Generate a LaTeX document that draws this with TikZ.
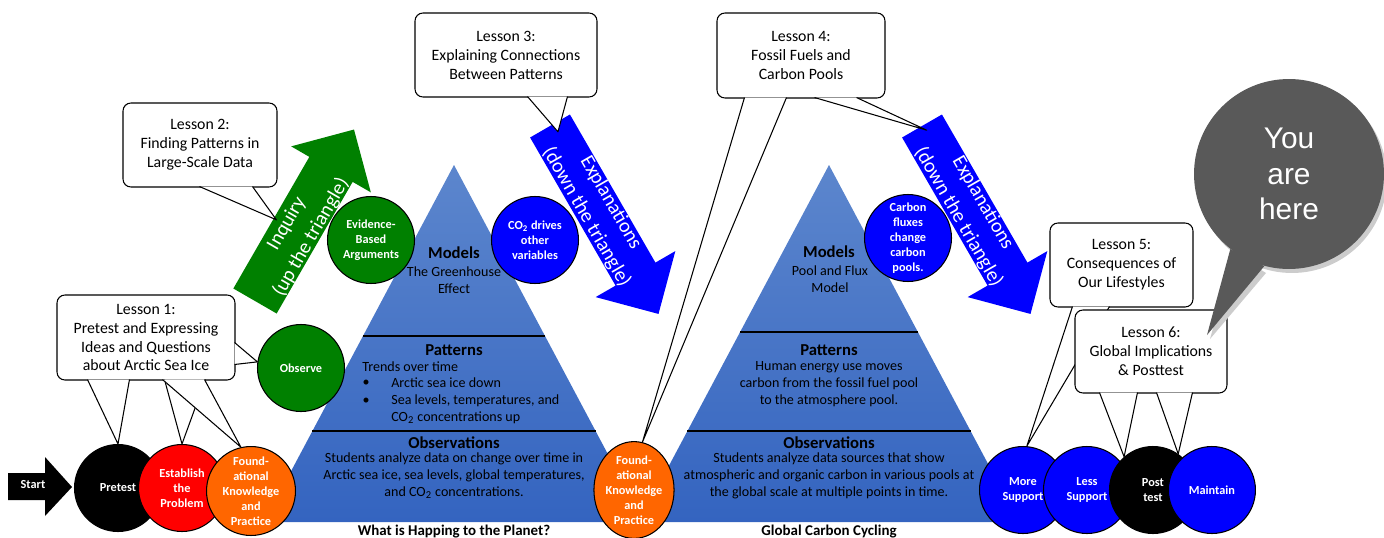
\documentclass[tikz,border=0pt]{standalone}
\usepackage{fontspec}
\setmainfont{Carlito}
\newfontfamily\bubblefont{Liberation Sans}
\usetikzlibrary{calc,shapes.geometric}

\definecolor{stepgreen}{RGB}{0,128,0}
\definecolor{stepblue}{RGB}{0,0,255}
\definecolor{stepred}{RGB}{255,0,0}
\definecolor{steporange}{RGB}{255,102,0}
\definecolor{tritop}{RGB}{92,134,205}
\definecolor{tribottom}{RGB}{52,100,192}
\definecolor{bubblegray}{RGB}{89,89,89}

\begin{document}
\begin{tikzpicture}[x=0.02cm, y=-0.02cm,
  stage/.style={circle, draw=black, line width=0.6pt, minimum size=1.74cm, inner sep=0pt, text=white, align=center, font=\fontsize{7}{8.5}\selectfont\bfseries},
  lesson/.style={draw=black, fill=white, line width=0.6pt, rounded corners=4.5pt, align=center, inner sep=0pt, font=\fontsize{9}{10.8}\selectfont},
  callout/.style={draw=black, fill=white, line width=0.6pt, line join=round},
  tritext/.style={align=center, inner sep=0pt, font=\fontsize{8}{9.7}\selectfont},
  trihead/.style={inner sep=0pt, font=\fontsize{9.5}{11}\selectfont\bfseries},
  arrowtext/.style={text=white, align=center, inner sep=0pt, font=\fontsize{11.5}{16}\selectfont},
  divider/.style={line width=0.7pt}]

  \useasboundingbox (0,0) rectangle (1384,538);

  % Triangles
  \shade[top color=tritop, bottom color=tribottom] (454,165) -- (264,522) -- (644,522) -- cycle;
  \shade[top color=tritop, bottom color=tribottom] (829,165) -- (639,522) -- (1019,522) -- cycle;
  \draw[divider] (363,336) -- (545,336);
  \draw[divider] (312,431) -- (596,431);
  \draw[divider] (740,332) -- (918,332);
  \draw[divider] (687,431) -- (971,431);

  % Left triangle text
  \node[trihead] (mod1) at (454,253) {Models};
  \node[tritext] (mod1t) at (454,280) {The Greenhouse\\Effect};
  \node[trihead] (pat1) at (454,350) {Patterns};
  \node[tritext, anchor=west] (pat1a) at (362,367) {Trends over time};
  \node[tritext] (dot1) at (366,383) {\textbullet};
  \node[tritext] (dot2) at (366,401) {\textbullet};
  \node[tritext, anchor=west] (pat1b) at (391,383) {Arctic sea ice down};
  \node[tritext, anchor=west, align=left] (pat1c) at (391,409.5) {Sea levels, temperatures, and\\CO\textsubscript{2} concentrations up};
  \node[trihead] (obs1) at (454,443) {Observations};
  \node[tritext] (obs1t) at (454,476) {Students analyze data on change over time in\\Arctic sea ice, sea levels, global temperatures,\\and CO\textsubscript{2} concentrations.};
  \node[font=\fontsize{8.5}{10}\selectfont\bfseries] (title1) at (454,532) {What is Happing to the Planet?};

  % Right triangle text
  \node[trihead] (mod2) at (829,252) {Models};
  \node[tritext] (mod2t) at (830,279) {Pool and Flux\\Model};
  \node[trihead] (pat2) at (829,350) {Patterns};
  \node[tritext] (pat2t) at (829,384) {Human energy use moves\\carbon from the fossil fuel pool\\to the atmosphere pool.};
  \node[trihead] (obs2) at (829,443) {Observations};
  \node[tritext] (obs2t) at (829,476) {Students analyze data sources that show\\atmospheric and organic carbon in various pools at\\the global scale at multiple points in time.};
  \node[font=\fontsize{8.5}{10}\selectfont\bfseries] (title2) at (829,532) {Global Carbon Cycling};

  % Inquiry arrow
  \begin{scope}[shift={(255,301)}, rotate=60]
    \fill[stepgreen] (0,-25) -- (152,-25) -- (152,-46) -- (198,0) -- (152,46) -- (152,25) -- (0,25) -- cycle;
    \node[arrowtext, rotate=60] (inq) at (83,3) {Inquiry\\(up the triangle)};
    \coordinate (inqedge) at (81,-22);
  \end{scope}

  % Explanation arrows
  \begin{scope}[shift={(550,126)}, rotate=-60]
    \fill[stepblue] (0,-23) -- (171,-23) -- (171,-46) -- (217,0) -- (171,46) -- (171,23) -- (0,23) -- cycle;
    \node[arrowtext, rotate=-60] (expl1) at (97,0) {Explanations\\(down the triangle)};
    \coordinate (expl1top) at (9,-4);
  \end{scope}
  \begin{scope}[shift={(922,126)}, rotate=-60]
    \fill[stepblue] (0,-23) -- (171,-23) -- (171,-46) -- (217,0) -- (171,46) -- (171,23) -- (0,23) -- cycle;
    \node[arrowtext, rotate=-60] (expl2) at (97,0) {Explanations\\(down the triangle)};
    \coordinate (expl2top) at (6,-2);
  \end{scope}

  % Start
  \fill[black] (8,473) -- (45,473) -- (45,457) -- (72,487) -- (45,516) -- (45,500) -- (8,500) -- cycle;
  \node[text=white, font=\fontsize{7}{8}\selectfont\bfseries] (start) at (33,485) {Start};

  % Circles on the triangles
  \node[stage, fill=stepgreen] (obs) at (301,368) {Observe};
  \node[stage, fill=stepgreen] (evid) at (371,240) {Evidence-\\Based\\Arguments};
  \node[stage, fill=stepblue] (cotwo) at (535,240) {CO\textsubscript{2} drives\\other\\variables};
  \node[stage, fill=stepblue] (flux) at (908,238) {Carbon\\fluxes\\change\\carbon\\pools.};

  % Bottom row, left
  \node[stage, fill=black] (pre) at (118,488) {Pretest};
  \node[stage, fill=stepred] (est) at (182,488) {Establish\\the\\Problem};
  \node[stage, fill=steporange] (fnd1) at (251,491) {Found-\\ational\\Knowledge\\and\\Practice};

  % Bottom row, middle
  \node[stage, ellipse, minimum width=1.48cm, minimum height=1.76cm, fill=steporange] (fnd2) at (634,490) {Found-\\ational\\Knowledge\\and\\Practice};

  % Bottom row, right
  \node[stage, fill=stepblue] (mores) at (1023,490) {More\\Support};
  \node[stage, fill=stepblue, right of=mores, node distance=1.28cm] (lesss) {Less\\Support};
  \node[stage, fill=black, right of=lesss, node distance=1.32cm] (post) {Post\\test};
  \node[stage, fill=stepblue, right of=post, node distance=1.18cm] (maint) {Maintain};

  % Lesson 1
  \node[lesson, minimum width=3.56cm, minimum height=1.7cm] (les1) at (146,337.5) {Lesson 1:\\Pretest and Expressing\\Ideas and Questions\\about Arctic Sea Ice};
  \path[callout] ($(les1.south west)+(31,-1)$) -- (pre.north) -- ($(les1.south west)+(73,-1)$);
  \path[callout] ($(les1.south west)+(108,-1)$) -- (est.north) -- ($(les1.south west)+(149,-1)$);
  \path[callout] ($(les1.south west)+(106,-1)$) -- (fnd1.103) -- ($(les1.south west)+(148,-1)$);
  \path[callout] ($(les1.north east)+(-1,48)$) -- (obs.172) -- ($(les1.north east)+(-1,70)$);

  % Lesson 2
  \node[lesson, minimum width=3.08cm, minimum height=1.68cm] (les2) at (200,145) {Lesson 2:\\Finding Patterns in\\Large-Scale Data};
  \path[callout] ($(les2.south west)+(77,-1)$) -- (inqedge) -- ($(les2.south west)+(130,-1)$);

  % Lesson 3
  \node[lesson, minimum width=3.64cm, minimum height=1.68cm] (les3) at (506,55) {Lesson 3:\\Explaining Connections\\Between Patterns};
  \path[callout] ($(les3.south west)+(113,-1)$) -- (expl1top) -- ($(les3.south west)+(153,-1)$);

  % Lesson 4
  \node[lesson, minimum width=3.36cm, minimum height=1.7cm] (les4) at (801,55.5) {Lesson 4:\\Fossil Fuels and\\Carbon Pools};
  \path[callout] ($(les4.south west)+(98,-1)$) -- (expl2top) -- ($(les4.south west)+(140,-1)$);
  \path[callout] ($(les4.south west)+(28,-1)$) -- (fnd2.80) -- ($(les4.south west)+(70,-1)$);

  % Lesson 5
  \node[lesson, minimum width=2.86cm, minimum height=1.68cm] (les5) at (1121.5,265) {Lesson 5:\\Consequences of\\Our Lifestyles};
  \path[callout] ($(les5.south west)+(23,-1)$) -- (mores.85) -- ($(les5.south west)+(60,-1)$);

  % Lesson 6
  \node[lesson, minimum width=3.04cm, minimum height=1.66cm] (les6) at (1151,351.5) {Lesson 6:\\Global Implications\\\& Posttest};
  \path[callout] ($(les6.south west)+(25,-1)$) -- (post.131) -- ($(les6.south west)+(63,-1)$);
  \path[callout] ($(les6.south west)+(82,-1)$) -- (post.55) -- ($(les6.south west)+(118,-1)$);

  % You are here
  \fill[black!20] (1292,178) circle (1.9cm);
  \fill[black!20] (1210,339) -- (1234,253) -- (1266,273) -- cycle;
  \node[circle, fill=bubblegray, minimum size=3.8cm, inner sep=0pt, text=white, align=center, font=\bubblefont\fontsize{17}{20}\selectfont] (here) at (1289,174) {You\\are\\here};
  \coordinate (heretip) at (1207,335);
  \fill[bubblegray] (here.232) -- (heretip) -- (here.255) -- cycle;

\end{tikzpicture}
\end{document}
